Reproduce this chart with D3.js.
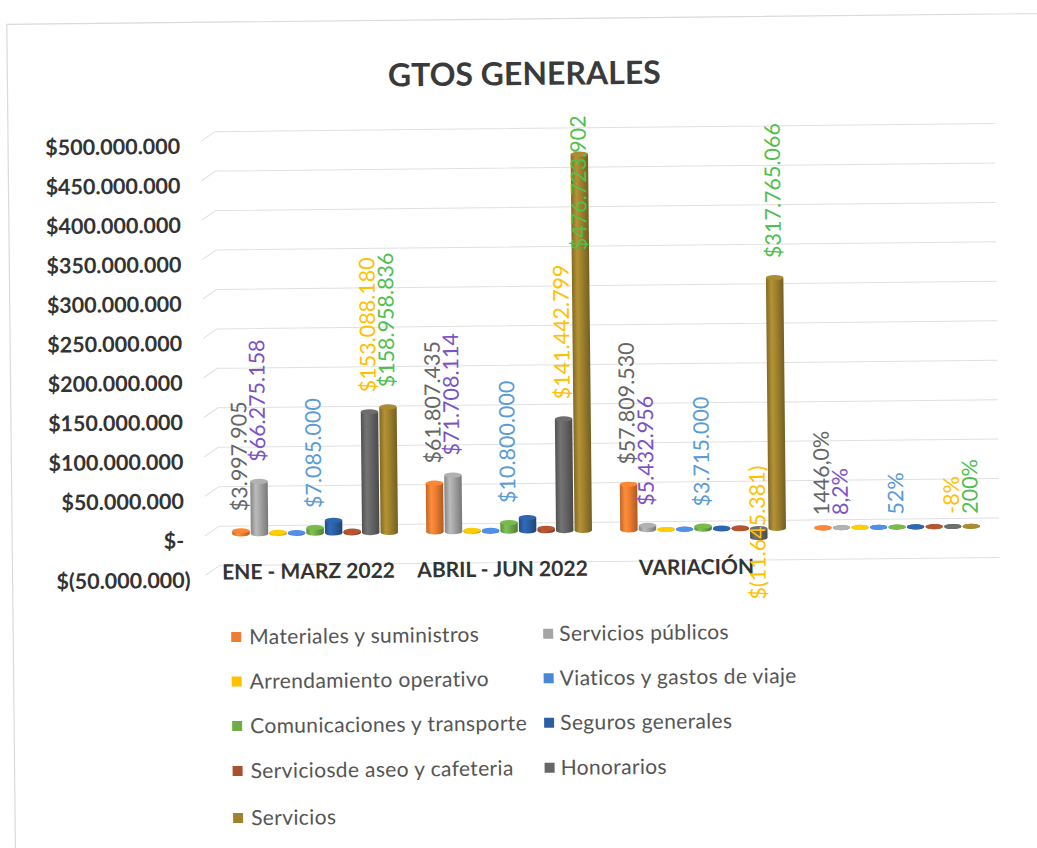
<!DOCTYPE html>
<html><head><meta charset="utf-8">
<script src="https://cdn.jsdelivr.net/npm/d3@7"></script>
<style>html,body{margin:0;padding:0;background:#fff;} svg{display:block;}</style>
</head><body>
<svg id="chart" width="1037" height="848"></svg>
<script>
// ---------------- DATA ----------------
const categories = ["ENE - MARZ 2022", "ABRIL - JUN 2022", "VARIACIÓN", ""];
const seriesNames = [
  "Materiales y suministros", "Servicios públicos", "Arrendamiento operativo",
  "Viaticos y gastos de viaje", "Comunicaciones y transporte", "Seguros generales",
  "Serviciosde aseo y cafeteria", "Honorarios", "Servicios"
];
const materiales     = [3997905, 61807435, 57809530, 14.46];
const serviciosPub   = [66275158, 71708114, 5432956, 0.082];
const arrendamiento  = [1500000, 1500000, 0, 0];
const viaticos       = [1000000, 1200000, 200000, 0.2];
const comunicaciones = [7085000, 10800000, 3715000, 0.52];
const seguros        = [16000000, 17000000, 1000000, 0.06];
const aseo           = [2000000, 3000000, 1000000, 0.5];
const honorarios     = [153088180, 141442799, -11645381, -0.08];
const servicios      = [158958836, 476723902, 317765066, 2.0];
const seriesValues = [materiales, serviciosPub, arrendamiento, viaticos, comunicaciones,
                      seguros, aseo, honorarios, servicios];
const labeledSeries = ["Materiales y suministros", "Servicios públicos",
                       "Comunicaciones y transporte", "Honorarios", "Servicios"];
const variationPctLabels = ["1446,0%", "8,2%", "52%", "-8%", "200%"];
const yTicks = [-50e6, 0, 50e6, 100e6, 150e6, 200e6, 250e6, 300e6, 350e6, 400e6, 450e6, 500e6];
const titleText = "GTOS GENERALES";

// ---------------- STYLE ----------------
const seriesColors = ["#ED7D31", "#A5A5A5", "#FFC000", "#4A86D8", "#70AD47",
                      "#2B5FA3", "#A8502F", "#666666", "#A0822E"];
const labelColors = ["#666666", "#7B52C4", "#5B9BD5", "#FFC000", "#4FBF4F"];
const FONT = "Lato, 'Open Sans', sans-serif";

const svg = d3.select("#chart");
svg.append("rect").attr("width", 1037).attr("height", 848).attr("fill", "#fff");
const root = svg.append("g").attr("transform", "rotate(-0.6,518,424)");

// page border from the scan
root.append("rect").attr("x", 11).attr("y", 19).attr("width", 1300).attr("height", 1000)
  .attr("fill", "none").attr("stroke", "#dadada").attr("stroke-width", 1.2);

// scales
const yF = d3.scaleLinear().domain([-50e6, 500e6]).range([577, 143]);
const barOff = -6.5, wallOff = -14.5;
const yb = v => yF(v) + barOff;
const x0 = d3.scaleBand().domain(categories).range([217, 993]).paddingInner(0.14).paddingOuter(0.07);
const x1 = d3.scaleBand().domain(seriesNames).range([0, x0.bandwidth()]).paddingInner(0.06).paddingOuter(0.03);

// gradients
const defs = svg.append("defs");
seriesColors.forEach((c, i) => {
  const g = defs.append("linearGradient").attr("id", "cyl" + i)
    .attr("x1", "0%").attr("x2", "100%").attr("y1", "0%").attr("y2", "0%");
  const base = d3.color(c);
  [[0, base.darker(0.6)], [0.3, base.brighter(0.35)], [0.55, base], [1, base.darker(0.9)]]
    .forEach(([o, col]) => g.append("stop").attr("offset", o).attr("stop-color", col.formatHex()));
});

// title
root.append("text").attr("x", 528).attr("y", 74).attr("text-anchor", "middle")
  .attr("dy", "0.35em").attr("font-family", FONT).attr("font-weight", 700)
  .attr("font-size", 32).attr("fill", "#3a3a3a").text(titleText);

// gridlines (3D wall)
root.append("g").selectAll("path").data(yTicks).join("path")
  .attr("d", v => `M204,${yF(v) - 5}L218,${yF(v) + wallOff}L998,${yF(v) + wallOff}`)
  .attr("fill", "none").attr("stroke", "#e0e0e0").attr("stroke-width", 1);

// y axis
const loc = d3.formatLocale({decimal: ",", thousands: ".", grouping: [3], currency: ["$", ""]});
const fmt = loc.format(",.0f");
const money = v => v < 0 ? "$(" + fmt(-v) + ")" : "$" + fmt(v);
const axis = d3.axisLeft(yF).tickValues(yTicks).tickSize(0).tickPadding(0)
  .tickFormat(v => v === 0 ? "$-" : money(v));
const ax = root.append("g").attr("transform", "translate(183,0)").call(axis);
ax.select(".domain").remove();
ax.selectAll("text").attr("font-family", FONT).attr("font-weight", 700)
  .attr("font-size", 21.5).attr("fill", "#333")
  .attr("dx", d => d < 0 ? 6 : 0);

// category labels
root.append("g").selectAll("text").data(categories).join("text")
  .attr("x", d => x0(d) + x0.bandwidth() / 2 - 7).attr("y", 569).attr("dy", "0.35em")
  .attr("text-anchor", "middle").attr("font-family", FONT).attr("font-weight", 700)
  .attr("font-size", 21).attr("fill", "#333").text(d => d);

// bars (cylinders)
const ry = 2.6;
const bars = [];
categories.forEach((c, ci) => seriesNames.forEach((s, si) => {
  bars.push({c, ci, s, si, v: seriesValues[si][ci]});
}));
const bg = root.append("g");
bars.forEach(b => {
  const w = x1.bandwidth();
  const x = x0(b.c) + x1(b.s);
  const cx = x + w / 2;
  const top = yb(Math.max(b.v, 0)), bot = yb(Math.min(b.v, 0));
  const col = d3.color(seriesColors[b.si]);
  const g = bg.append("g");
  g.append("ellipse").attr("cx", cx).attr("cy", bot).attr("rx", w / 2).attr("ry", ry)
    .attr("fill", `url(#cyl${b.si})`);
  g.append("rect").attr("x", x).attr("y", top).attr("width", w).attr("height", Math.max(0, bot - top))
    .attr("fill", `url(#cyl${b.si})`);
  g.append("ellipse").attr("cx", cx).attr("cy", top).attr("rx", w / 2).attr("ry", ry)
    .attr("fill", col.brighter(0.2).formatHex());
});

// data labels
const lg = root.append("g");
labeledSeries.forEach((name, li) => {
  const si = seriesNames.indexOf(name);
  categories.forEach((c, ci) => {
    const v = seriesValues[si][ci];
    const cx = x0(c) + x1(name) + x1.bandwidth() / 2 - 1;
    const txt = ci === 3 ? variationPctLabels[li] : money(v);
    const t = lg.append("text").attr("font-family", FONT).attr("font-size", 21.5)
      .attr("fill", labelColors[li]).attr("dy", "0.35em").text(txt);
    const len = t.node().getComputedTextLength();
    let y, anchor = "start";
    if (v < 0 && ci < 3) {
      anchor = "middle"; y = yb(0) + 4;
    } else {
      const gap = ci === 3 ? 10 : 17;
      y = yb(Math.max(v, 0)) - ry - gap;
      if (y - len < 116) y = 116 + len;
    }
    t.attr("text-anchor", anchor).attr("transform", `translate(${cx},${y}) rotate(-90)`);
  });
});

// legend
const legRows = [634, 678.5, 723, 768, 815];
const legend = root.append("g");
seriesNames.forEach((s, i) => {
  const col = i % 2, row = Math.floor(i / 2);
  const mx = col === 0 ? 229 : 541, tx = col === 0 ? 247 : 557;
  const y = legRows[row];
  legend.append("rect").attr("x", mx).attr("y", y - 5).attr("width", 10).attr("height", 10)
    .attr("fill", seriesColors[i]);
  legend.append("text").attr("x", tx).attr("y", y).attr("dy", "0.35em")
    .attr("font-family", FONT).attr("font-size", 21).attr("letter-spacing", 0.35)
    .attr("fill", "#555").text(s);
});
</script>
</body></html>
